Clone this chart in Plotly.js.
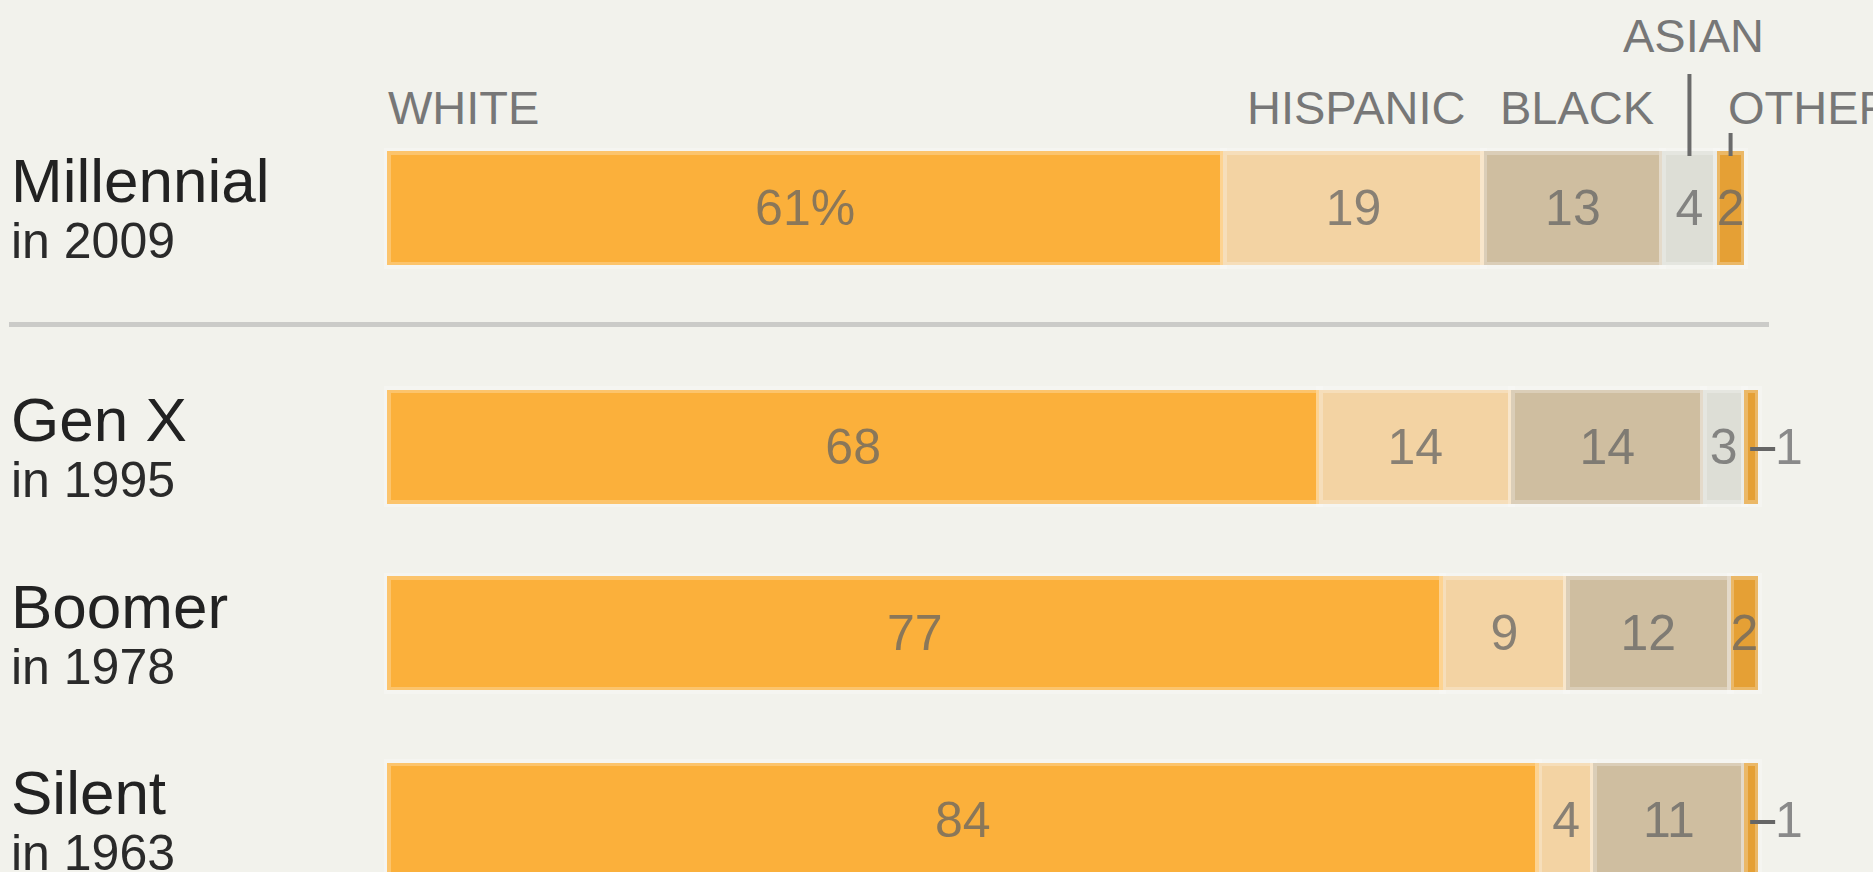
<!DOCTYPE html>
<html>
<head>
<meta charset="utf-8">
<script src="https://cdn.plot.ly/plotly-3.0.1.min.js"></script>
<style>
  html, body { margin: 0; padding: 0; background: #F2F2EC; }
  #chart { width: 1873px; height: 872px; }
</style>
</head>
<body>
<div id="chart"></div>
<script>
// ---- data ----
const categories = ['Millennial', 'Gen X', 'Boomer', 'Silent'];
const years = ['in 2009', 'in 1995', 'in 1978', 'in 1963'];
const groups = ['WHITE', 'HISPANIC', 'BLACK', 'ASIAN', 'OTHER'];
const white = [61, 68, 77, 84];
const hispanic = [19, 14, 9, 4];
const black = [13, 14, 12, 11];
const asian = [4, 3, 0, 0];
const other = [2, 1, 2, 1];

// ---- styles ----
const series = [white, hispanic, black, asian, other];
const colors = ['#FBB03B', '#F3D3A3', '#CFBEA0', '#DDDED6', '#E5A035'];
const FONT = 'Liberation Sans, Arial, Helvetica, sans-serif';
const W = 1873, H = 872;
const X0PX = 387, PXPER = 13.71;

function outside(k, i) { return k === 4 && series[k][i] < 2; }
function label(k, i) {
  const v = series[k][i];
  if (!(v > 0) || outside(k, i)) return '';
  return (k === 0 && i === 0) ? v + '%' : String(v);
}

const traces = [];
const rowSets = [[0], [1, 2, 3]];
series.forEach((vals, k) => {
  rowSets.forEach((rows, s) => {
    traces.push({
      type: 'bar',
      orientation: 'h',
      name: groups[k],
      x: rows.map(i => vals[i] > 0 ? vals[i] : null),
      y: rows.map(i => categories[i]),
      xaxis: 'x',
      yaxis: s === 0 ? 'y' : 'y2',
      marker: { color: colors[k], line: { color: 'rgba(255,255,255,0.25)', width: 7 } },
      text: rows.map(i => label(k, i)),
      textposition: 'inside',
      insidetextanchor: 'middle',
      textangle: 0,
      constraintext: 'none',
      textfont: { family: FONT, size: 50, color: 'rgba(100,100,100,0.75)' },
      insidetextfont: { family: FONT, size: 50, color: 'rgba(100,100,100,0.75)' },
      hoverinfo: 'none'
    });
  });
});

function cum(i, k) { let s = 0; for (let j = 0; j < k; j++) s += series[j][i]; return s; }
function center(i, k) { return cum(i, k) + series[k][i] / 2; }
function yref(i) { return i === 0 ? 'y' : 'y2'; }

const annotations = [];
const shapes = [];

// row labels
categories.forEach((c, i) => {
  annotations.push({ xref: 'paper', x: 9 / W, xanchor: 'left', yref: yref(i), y: c, yanchor: 'middle',
    yshift: 27, text: c, showarrow: false, font: { family: FONT, size: 62, color: '#222' } });
  annotations.push({ xref: 'paper', x: 9 / W, xanchor: 'left', yref: yref(i), y: c, yanchor: 'middle',
    yshift: -33.5, text: years[i], showarrow: false, font: { family: FONT, size: 50, color: '#2a2a2a' } });
});

// group headers (over the Millennial bar)
const hdrY = 1 - 107.5 / H;
const hdrFont = { family: FONT, size: 47, color: '#777' };
annotations.push({ xref: 'x', x: 0, xanchor: 'left', xshift: -1.5, yref: 'paper', y: hdrY, yanchor: 'middle',
  text: groups[0], showarrow: false, font: hdrFont });
annotations.push({ xref: 'x', x: center(0, 1), xanchor: 'center', xshift: 3, yref: 'paper', y: hdrY, yanchor: 'middle',
  text: groups[1], showarrow: false, font: hdrFont });
annotations.push({ xref: 'x', x: center(0, 2), xanchor: 'center', xshift: 4, yref: 'paper', y: hdrY, yanchor: 'middle',
  text: groups[2], showarrow: false, font: hdrFont });
annotations.push({ xref: 'x', x: center(0, 3), xanchor: 'center', xshift: 4, yref: 'paper', y: 1 - 35 / H, yanchor: 'middle',
  text: groups[3], showarrow: false, font: hdrFont });
annotations.push({ xref: 'x', x: center(0, 4), xanchor: 'left', xshift: -5, yref: 'paper', y: hdrY, yanchor: 'middle',
  text: groups[4], showarrow: false, font: hdrFont });

// header leader lines
shapes.push({ type: 'line', xref: 'x', x0: center(0, 3), x1: center(0, 3), yref: 'paper',
  y0: 1 - 156 / H, y1: 1 - 74 / H, line: { color: '#6B6B6B', width: 4 } });
shapes.push({ type: 'line', xref: 'x', x0: center(0, 4), x1: center(0, 4), yref: 'paper',
  y0: 1 - 156 / H, y1: 1 - 133 / H, line: { color: '#6B6B6B', width: 4 } });

// separator
shapes.push({ type: 'line', xref: 'paper', x0: 9 / W, x1: 1769 / W, yref: 'paper',
  y0: 1 - 324.5 / H, y1: 1 - 324.5 / H, line: { color: '#CBCBC8', width: 5 } });

// outside labels for tiny "other" values
categories.forEach((c, i) => {
  if (!outside(4, i)) return;
  const cx = center(i, 4);
  shapes.push({ type: 'line', xref: 'x', xsizemode: 'pixel', xanchor: cx, x0: -1, x1: 24,
    yref: yref(i), ysizemode: 'pixel', yanchor: c, y0: -2.5, y1: -2.5,
    line: { color: '#666', width: 4 } });
  annotations.push({ xref: 'x', x: cx, xanchor: 'left', xshift: 22, yref: yref(i), y: c, yanchor: 'middle',
    text: String(other[i]), showarrow: false, font: { family: FONT, size: 50, color: '#8a8a8a' } });
});

const pxUnit = 186.5;
const layout = {
  width: W, height: H,
  margin: { l: 0, r: 0, t: 0, b: 0, pad: 0 },
  paper_bgcolor: '#F2F2EC',
  plot_bgcolor: 'rgba(0,0,0,0)',
  barmode: 'stack',
  bargap: 1 - 114 / pxUnit,
  showlegend: false,
  hovermode: false,
  xaxis: { range: [-X0PX / PXPER, (W - X0PX) / PXPER], visible: false, fixedrange: true, anchor: 'y' },
  yaxis: {
    type: 'category', categoryorder: 'array', categoryarray: [categories[0]],
    range: [0.5, -0.5], domain: [1 - (208 + pxUnit / 2) / H, 1 - (208 - pxUnit / 2) / H],
    visible: false, fixedrange: true, anchor: 'x'
  },
  yaxis2: {
    type: 'category', categoryorder: 'array', categoryarray: categories.slice(1),
    range: [(H - 446.5) / pxUnit, -0.5], domain: [0, 1 - (446.5 - pxUnit / 2) / H],
    visible: false, fixedrange: true, anchor: 'x'
  },
  annotations: annotations,
  shapes: shapes
};

Plotly.newPlot('chart', traces, layout, { displayModeBar: false, staticPlot: true });
</script>
</body>
</html>
